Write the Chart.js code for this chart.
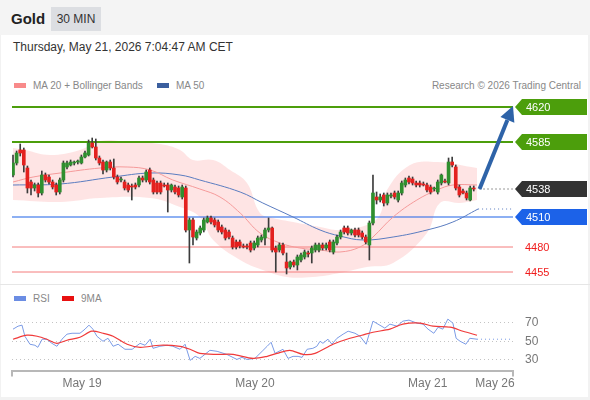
<!DOCTYPE html>
<html>
<head>
<meta charset="utf-8">
<script src="https://cdn.jsdelivr.net/npm/chart.js@4.4.1/dist/chart.umd.min.js"></script>
<style>
html, body { margin: 0; padding: 0; }
body { width: 590px; height: 400px; background: #f2f2f2; font-family: Arial, "Liberation Sans", Helvetica, sans-serif; position: relative; overflow: hidden; }
#hdr { position: absolute; left: 0; top: 0; width: 590px; height: 35px; background: #f4f4f4; }
#title { position: absolute; left: 11px; top: 10px; font-size: 15px; font-weight: bold; color: #222; }
#tf { position: absolute; left: 51px; top: 7px; width: 50px; height: 24px; line-height: 24px; text-align: center; background: #dcdee2; font-size: 12px; color: #333; }
#panel { position: absolute; left: 1px; top: 35px; width: 587px; height: 362px; background: #fff; }
#date { position: absolute; left: 13px; top: 40px; font-size: 12px; color: #333; }
.leg { position: absolute; font-size: 10px; color: #888; white-space: nowrap; }
.sw { display: inline-block; width: 12px; height: 5px; vertical-align: middle; margin-right: 7px; position: relative; top: -1px; }
#sep { position: absolute; left: 0; top: 284px; width: 590px; height: 1px; background: #e6e6e6; }
canvas { position: absolute; left: 0; }
</style>
</head>
<body>
<div id="hdr"><div id="title">Gold</div><div id="tf">30 MIN</div></div>
<div id="panel"></div>
<div id="date">Thursday, May 21, 2026 7:04:47 AM CET</div>
<div class="leg" style="left:14px;top:80px;"><span class="sw" style="background:#f88a8a"></span>MA 20 + Bollinger Bands</div>
<div class="leg" style="left:157px;top:80px;"><span class="sw" style="background:#3b5f9e"></span>MA 50</div>
<div class="leg" style="right:9px;top:80px;">Research © 2026 Trading Central</div>
<div id="sep"></div>
<div class="leg" style="left:14px;top:293px;"><span class="sw" style="background:#6b8de3"></span>RSI</div>
<div class="leg" style="left:62px;top:293px;"><span class="sw" style="background:#e81010"></span>9MA</div>
<canvas id="mainChart" width="590" height="189" style="top:95px"></canvas>
<canvas id="rsiChart" width="590" height="112" style="top:285px"></canvas>
<script>
// candles, 30 min, index 0 = first bar on screen
const candleOpen = [4552,4564,4577,4577,4559,4545,4539,4542,4534,4552, 4550,4545,4542,4535,4547,4560,4562,4564,4565,4564,
  4570,4572,4584,4580,4569,4565,4557,4565,4559,4550, 4547,4545,4542,4541,4542,4542,4549,4547,4557,4547,
  4544,4544,4542,4542,4537,4540,4539,4530,4539,4497, 4507,4489,4494,4497,4505,4509,4507,4505,4500,4497,
  4495,4489,4485,4485,4481,4481,4484,4479,4482,4487, 4489,4497,4499,4479,4477,4482,4465,4460,4465,4462,
  4467,4470,4474,4474,4477,4477,4482,4479,4485,4475, 4484,4490,4499,4499,4494,4497,4497,4494,4490,4482,
  4504,4530,4527,4532,4524,4531,4534,4527,4534,4542, 4549,4548,4544,4544,4543,4542,4540,4538,4535,4544,
  4546,4544,4565,4560,4540,4536,4534,4527,4539];
const candleHigh = [4572,4576,4583,4579,4561,4547,4544,4544,4556,4554, 4552,4547,4544,4549,4566,4566,4567,4566,4567,4572,
  4576,4587,4589,4588,4571,4567,4566,4567,4568,4552, 4550,4547,4544,4543,4544,4551,4551,4557,4559,4549,
  4546,4546,4544,4544,4543,4542,4541,4542,4541,4509, 4509,4497,4501,4509,4511,4511,4509,4507,4502,4499,
  4497,4491,4487,4487,4483,4483,4486,4486,4491,4492, 4499,4509,4500,4481,4484,4484,4474,4466,4467,4472,
  4474,4477,4476,4481,4484,4484,4484,4484,4487,4487, 4492,4497,4501,4501,4498,4499,4499,4496,4492,4506,
  4552,4535,4533,4534,4534,4534,4536,4536,4546,4549, 4551,4550,4546,4546,4545,4544,4542,4540,4547,4553,
  4548,4569,4570,4562,4542,4538,4536,4541,4541];
const candleLow = [4550,4562,4571,4555,4534,4532,4536,4530,4532,4545, 4543,4538,4532,4533,4545,4558,4561,4562,4563,4563,
  4569,4571,4579,4567,4562,4553,4555,4557,4548,4543, 4545,4537,4535,4527,4538,4540,4545,4545,4543,4533,
  4533,4533,4540,4515,4535,4533,4530,4528,4495,4464, 4482,4487,4492,4495,4504,4503,4500,4495,4493,4487,
  4488,4478,4478,4479,4479,4478,4475,4477,4480,4485, 4482,4495,4475,4455,4475,4472,4453,4458,4460,4457,
  4465,4468,4470,4464,4475,4475,4477,4477,4475,4473, 4482,4488,4493,4492,4492,4490,4490,4488,4483,4467,
  4502,4523,4525,4521,4522,4529,4528,4525,4532,4540, 4543,4542,4540,4540,4541,4535,4533,4536,4533,4542,
  4544,4542,4560,4537,4530,4533,4527,4526,4536];
const candleClose = [4564,4574,4574,4562,4539,4539,4542,4534,4552,4547, 4545,4540,4535,4547,4564,4564,4565,4565,4566,4570,
  4574,4584,4580,4569,4564,4557,4565,4559,4550,4545, 4548,4539,4537,4540,4540,4549,4547,4555,4545,4535,
  4535,4535,4541,4537,4542,4535,4532,4540,4497,4507, 4490,4495,4499,4507,4509,4505,4502,4497,4495,4489,
  4490,4480,4480,4481,4480,4480,4477,4484,4489,4490, 4497,4499,4477,4475,4482,4474,4459,4465,4462,4470,
  4472,4475,4473,4479,4482,4482,4479,4482,4477,4485, 4490,4495,4495,4494,4497,4492,4492,4490,4485,4504,
  4534,4527,4530,4524,4532,4532,4530,4534,4544,4547, 4545,4544,4542,4542,4542,4537,4535,4539,4545,4552,
  4545,4565,4562,4539,4532,4534,4529,4539,4538];

// indicator lines (x = bar index)
const ma20X = [0, 5.6, 13.1, 24.2, 31.7, 38.1, 44.4, 51.9, 57.5, 63.1, 68.6, 74.2, 79.7, 85.3, 90.8, 96.4, 100, 105.6, 112.2, 117.8, 122.2, 128.9];
const ma20Y = [4545, 4550, 4554, 4559, 4560, 4557, 4547, 4538, 4530, 4514, 4494, 4484, 4479, 4477, 4475, 4480, 4490, 4510, 4527, 4537, 4542, 4542];
const ma50X = [0, 13.1, 27.8, 38.1, 46.4, 51.9, 63.1, 69.4, 77.8, 85.3, 90.8, 97.2, 105.6, 115, 122.2, 129.2];
const ma50Y = [4542, 4543, 4550, 4554, 4552, 4547, 4535, 4524, 4510, 4497, 4491, 4487, 4490, 4497, 4505, 4518];
const bandUpX = [0, 3.3, 10.3, 18.6, 24.2, 32.5, 40.8, 46.4, 50, 55.6, 60.3, 65, 68.6, 72.2, 77.8, 85.3, 90.8, 98.3, 101.9, 103.9, 110.3, 117.8, 128.9];
const bandUpY = [4579, 4577, 4572, 4577, 4586, 4585, 4583, 4577, 4567, 4567, 4557, 4544, 4514, 4509, 4505, 4500, 4497, 4502, 4512, 4537, 4562, 4565, 4559];
const bandLoX = [0, 13.1, 24.2, 38.1, 46.4, 51.9, 55.6, 63.1, 69.4, 76.1, 83.3, 90.8, 98.3, 105.6, 115, 118.6, 124.2, 128.9];
const bandLoY = [4527, 4525, 4529, 4529, 4520, 4510, 4487, 4467, 4457, 4450, 4450, 4454, 4460, 4464, 4494, 4524, 4524, 4527];

// levels
const resistLevels = [4620, 4585];
const pivotLevel = 4510;
const lastPrice = 4538;
const supportLevels = [4480, 4455];
const arrowFrom = { x: 129.6, y: 4538 };
const arrowTo = { x: 138.9, y: 4621 };

// RSI panel
const rsiX = [0, 1.4, 2.5, 3.3, 4.7, 6.1, 6.9, 8.1, 9.4, 10.8, 12.2, 13.6, 15, 16.4, 18.6, 20, 21.1, 22.2, 23.3, 25,
  26.4, 27.8, 29.2, 31.1, 33.1, 35.3, 36.7, 38.1, 38.9, 40.8, 42.8, 44.4, 46.4, 47.8, 49.2, 50.6, 51.9, 53.3, 54.7, 56.7,
  59.4, 62.2, 63.6, 65, 67.2, 69.2, 70.6, 71.7, 72.8, 75, 76.4, 77.8, 79.2, 80.3, 81.7, 83.3, 84.4, 85.3, 86.1, 87.5,
  88.6, 90, 91.7, 93.1, 95, 96.4, 98.1, 100, 101.4, 103.3, 104.7, 106.7, 108.3, 110, 112.2, 113.9, 115.3, 116.9, 118.1, 119.4,
  120.8, 122.2, 123.1, 124.2, 125.8, 126.9, 128.9];
const rsiY = [63, 66.2, 67.3, 55.4, 46.8, 45.7, 43.5, 52.2, 52.2, 47.8, 44.6, 52.2, 57.6, 58.6, 58.6, 63, 67.3, 63, 55.4, 50,
  53.2, 44.6, 46.8, 41.4, 41.4, 47.8, 45.7, 52.2, 42.4, 44.6, 45.7, 44.6, 41.4, 46.8, 29.5, 33.8, 31.6, 35.9, 40.3, 39.2,
  35.9, 30.5, 32.7, 30.5, 31.6, 39.2, 44.6, 48.9, 37, 41.4, 31.6, 33.8, 33.8, 32.7, 41.4, 42.4, 44.6, 50, 47.8, 52.2,
  46.8, 53.2, 57.6, 60.8, 58.6, 55.4, 46.8, 71.6, 68.4, 64.1, 68.4, 66.2, 71.6, 72.7, 69.5, 68.4, 63, 58.6, 65.1, 63,
  73.8, 69.5, 53.2, 50, 46.8, 53.2, 52.2];
const rsiMaX = [0, 3.9, 6.7, 9.4, 12.2, 15, 18.6, 21.9, 25, 27.8, 31.7, 35.3, 40.8, 46.4, 49.2, 51.9, 56.7, 61.1, 66.7, 70.6,
  73.3, 76.9, 80.6, 83.9, 88.9, 93.6, 96.9, 100, 104.7, 108.3, 113.1, 116.7, 121.4, 125, 128.9];
const rsiMaY = [52.2, 56.5, 55.4, 52.2, 47.8, 51.1, 54.3, 60.8, 58.6, 55.4, 46.8, 43.5, 45.7, 44.6, 41.4, 37, 35.9, 35.9, 31.6, 33.8,
  37, 40.3, 35.9, 37, 46.8, 53.2, 56.5, 59.7, 63, 68.4, 69.5, 66.2, 65.1, 60.8, 56.5];
const rsiLevels = [30, 50, 70];

const dayTicks = [19.2, 67.2, 115.2, 133.9];
const dayLabels = ['May 19', 'May 20', 'May 21', 'May 26'];

const X_MIN = -0.28, X_MAX = 138.9;
const UP = '#2f8f2f', DOWN = '#e3211f';

const pts = (xs, ys) => xs.map((x, i) => ({ x: x, y: ys[i] }));
const hline = (v) => [{ x: X_MIN, y: v }, { x: X_MAX, y: v }];
const lineDs = (data, color, width, extra) => Object.assign({
    type: 'line', data: data, borderColor: color, borderWidth: width, pointRadius: 0, fill: false, tension: 0
}, extra || {});

// price tags on the right of the main chart
const tagPlugin = {
    id: 'tags',
    afterDraw(chart) {
        const ctx = chart.ctx, y = chart.scales.y;
        const boxed = [
            [resistLevels[0], '#4c9e0c'], [resistLevels[1], '#4c9e0c'],
            [lastPrice, '#333333'], [pivotLevel, '#1c62e8']
        ];
        ctx.save();
        ctx.font = '11px Arial, "Liberation Sans", sans-serif';
        ctx.textBaseline = 'middle';
        boxed.forEach(([v, c]) => {
            const cy = Math.round(y.getPixelForValue(v));
            ctx.fillStyle = c;
            ctx.beginPath();
            ctx.moveTo(515, cy);
            ctx.lineTo(522, cy - 8);
            ctx.lineTo(587, cy - 8);
            ctx.lineTo(587, cy + 8);
            ctx.lineTo(522, cy + 8);
            ctx.closePath();
            ctx.fill();
            ctx.fillStyle = '#fff';
            ctx.fillText(String(v), 526, cy + 0.5);
        });
        ctx.fillStyle = '#f01c1c';
        supportLevels.forEach(v => ctx.fillText(String(v), 525, y.getPixelForValue(v) + 0.5));

        // arrow
        const x0 = chart.scales.x.getPixelForValue(arrowFrom.x), y0 = y.getPixelForValue(arrowFrom.y);
        const x1 = chart.scales.x.getPixelForValue(arrowTo.x), y1 = y.getPixelForValue(arrowTo.y);
        const a = Math.atan2(y1 - y0, x1 - x0), hl = 15, hw = 7.5;
        const bx = x1 - hl * Math.cos(a), by = y1 - hl * Math.sin(a);
        ctx.strokeStyle = '#2e63a8';
        ctx.fillStyle = '#2e63a8';
        ctx.lineWidth = 4;
        ctx.beginPath();
        ctx.moveTo(x0, y0);
        ctx.lineTo(bx, by);
        ctx.stroke();
        ctx.beginPath();
        ctx.moveTo(x1, y1);
        ctx.lineTo(bx + hw * Math.sin(a), by - hw * Math.cos(a));
        ctx.lineTo(bx - hw * Math.sin(a), by + hw * Math.cos(a));
        ctx.closePath();
        ctx.fill();
        ctx.restore();
    }
};

new Chart(document.getElementById('mainChart'), {
    type: 'line',
    data: {
        datasets: [
            {
                type: 'bar', order: 0, grouped: false, barThickness: 3,
                data: candleOpen.map((o, i) => ({ x: i, y: [o, candleClose[i]] })),
                backgroundColor: candleOpen.map((o, i) => candleClose[i] >= o ? UP : DOWN)
            },
            {
                type: 'bar', order: 1, grouped: false, barThickness: 1,
                data: candleLow.map((l, i) => ({ x: i, y: [l, candleHigh[i]] })),
                backgroundColor: '#3c3c3c'
            },
            lineDs(pts(ma20X, ma20Y), '#f59a9a', 1, { order: 3, tension: 0.4 }),
            lineDs(pts(ma50X, ma50Y), '#5a7cc0', 1, { order: 3, tension: 0.4 }),
            lineDs(hline(resistLevels[0]), '#4c9e0c', 2, { order: 4 }),
            lineDs(hline(resistLevels[1]), '#4c9e0c', 2, { order: 4 }),
            lineDs(hline(pivotLevel), '#1c62e8', 1.2, { order: 4 }),
            lineDs(hline(supportLevels[0]), '#f47c7c', 1, { order: 4 }),
            lineDs(hline(supportLevels[1]), '#f47c7c', 1, { order: 4 }),
            lineDs([{ x: arrowFrom.x, y: lastPrice }, { x: X_MAX, y: lastPrice }], '#333', 1, { order: 4, borderDash: [1, 3] }),
            lineDs([{ x: ma50X[ma50X.length - 1], y: ma50Y[ma50Y.length - 1] }, { x: X_MAX, y: ma50Y[ma50Y.length - 1] }], '#5a7cc0', 1, { order: 4, borderDash: [1, 3] }),
            lineDs(pts(bandUpX, bandUpY), 'rgba(0,0,0,0)', 0, { order: 6, tension: 0.4, fill: '+1', backgroundColor: 'rgba(250,120,120,0.2)' }),
            lineDs(pts(bandLoX, bandLoY), 'rgba(0,0,0,0)', 0, { order: 7, tension: 0.4 })
        ]
    },
    options: {
        responsive: false, animation: false,
        layout: { padding: { left: 12, right: 77, top: 0, bottom: 0 } },
        plugins: { legend: { display: false }, tooltip: { enabled: false } },
        scales: {
            x: { type: 'linear', min: X_MIN, max: X_MAX, offset: false, display: false },
            y: { type: 'linear', min: 4443, max: 4632, display: false }
        }
    },
    plugins: [tagPlugin]
});

// small end ticks on the RSI time axis
const axisEnds = {
    id: 'axisEnds',
    afterDraw(chart) {
        const ctx = chart.ctx, a = chart.chartArea;
        ctx.save();
        ctx.strokeStyle = '#b8b8b8';
        ctx.lineWidth = 2;
        ctx.beginPath();
        ctx.moveTo(a.left, a.bottom); ctx.lineTo(a.left, a.bottom + 6);
        ctx.moveTo(a.right, a.bottom); ctx.lineTo(a.right, a.bottom + 6);
        ctx.stroke();
        ctx.restore();
    }
};

new Chart(document.getElementById('rsiChart'), {
    type: 'line',
    data: {
        datasets: [
            lineDs(pts(rsiMaX, rsiMaY), '#f03a3a', 1.2, { order: 1, tension: 0.3 }),
            lineDs(pts(rsiX, rsiY), '#7b9be6', 1, { order: 2 }),
            lineDs([{ x: rsiX[rsiX.length - 1], y: rsiY[rsiY.length - 1] }, { x: X_MAX, y: rsiY[rsiY.length - 1] }], '#7b9be6', 1, { order: 2, borderDash: [1, 3] })
        ]
    },
    options: {
        responsive: false, animation: false,
        layout: { padding: { left: 12, right: 0, top: 15, bottom: 0 } },
        plugins: { legend: { display: false }, tooltip: { enabled: false } },
        scales: {
            x: {
                type: 'linear', min: X_MIN, max: X_MAX, offset: false,
                afterBuildTicks: (s) => { s.ticks = dayTicks.map(v => ({ value: v })); },
                grid: { display: false, drawTicks: false },
                border: { display: true, color: '#b8b8b8', width: 2 },
                ticks: { padding: 6, color: '#777', font: { size: 12, family: 'Arial, "Liberation Sans", sans-serif' }, maxRotation: 0, autoSkip: false,
                    callback: (v, i) => dayLabels[i] }
            },
            y: {
                type: 'linear', position: 'right', min: 18.5, max: 89.8,
                afterBuildTicks: (s) => { s.ticks = rsiLevels.map(v => ({ value: v })); },
                afterFit: (s) => { s.width = 77; },
                grid: { color: '#c4c4c4', drawTicks: false },
                border: { display: false, dash: [1, 3] },
                ticks: { padding: 12, color: '#777', font: { size: 12, family: 'Arial, "Liberation Sans", sans-serif' } }
            }
        }
    },
    plugins: [axisEnds]
});
</script>
</body>
</html>
